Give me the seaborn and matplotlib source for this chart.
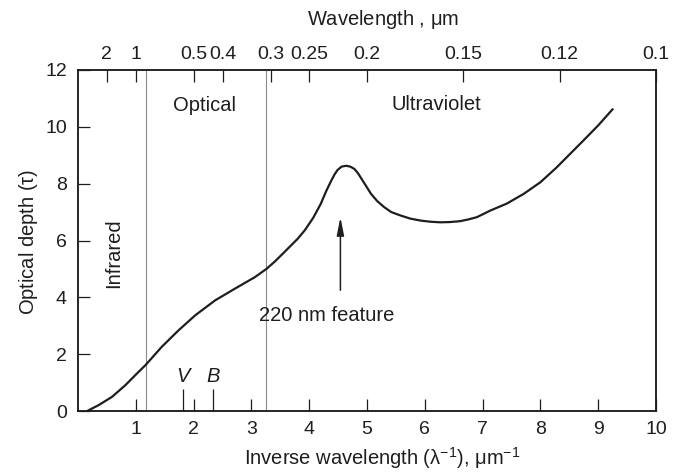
import matplotlib
matplotlib.use("Agg")
import matplotlib.pyplot as plt
import seaborn as sns
import pandas as pd

# Extinction curve: optical depth against inverse wavelength (um^-1)
inv_wavelength = [0.16, 0.36, 0.59, 0.82, 1.02, 1.17, 1.45, 1.74, 2.03, 2.37, 2.71,
                  3.06, 3.26, 3.40, 3.55, 3.80, 3.92, 4.07, 4.20, 4.29, 4.38, 4.44,
                  4.49, 4.56, 4.64, 4.71, 4.78, 4.84, 4.89, 4.98, 5.07, 5.18, 5.30,
                  5.42, 5.58, 5.75, 5.93, 6.10, 6.27, 6.44, 6.61, 6.75, 6.90, 7.00,
                  7.13, 7.42, 7.71, 8.00, 8.28, 8.50, 8.74, 9.00, 9.25]
optical_depth = [0.0, 0.21, 0.5, 0.91, 1.32, 1.62, 2.26, 2.84, 3.37, 3.89, 4.3,
                 4.71, 5.0, 5.25, 5.55, 6.06, 6.35, 6.8, 7.29, 7.72, 8.1, 8.33,
                 8.48, 8.6, 8.63, 8.6, 8.52, 8.38, 8.22, 7.93, 7.64, 7.38, 7.17,
                 7.0, 6.88, 6.77, 6.70, 6.66, 6.64, 6.65, 6.68, 6.74, 6.82, 6.92,
                 7.05, 7.3, 7.64, 8.05, 8.57, 9.02, 9.51, 10.05, 10.62]

# Region boundaries and photometric bands
region_edges = [1.18, 3.26]
band_names = ["V", "B"]
band_positions = [1.82, 2.33]

# Axis ticks
x_ticks = [1, 2, 3, 4, 5, 6, 7, 8, 9, 10]
y_ticks = [0, 2, 4, 6, 8, 10, 12]
wavelength_labels = ["2", "1", "0.5", "0.4", "0.3", "0.25", "0.2", "0.15", "0.12", "0.1"]
wavelength_values = [2, 1, 0.5, 0.4, 0.3, 0.25, 0.2, 0.15, 0.12, 0.1]

# 220 nm bump annotation
feature_x = 4.54
feature_arrow = (4.25, 6.82)

sns.set_theme(style="ticks")
plt.rcParams["font.family"] = ["Liberation Sans", "DejaVu Sans"]
plt.rcParams["mathtext.fontset"] = "custom"
plt.rcParams["mathtext.rm"] = "Liberation Sans"
plt.rcParams["mathtext.it"] = "Liberation Sans:italic"
plt.rcParams["mathtext.default"] = "regular"

ink = "#1e1e1e"
fs_tick = 14
fs = 14.5

fig = plt.figure(figsize=(6.76, 4.74), dpi=100)
ax = fig.add_axes([78 / 676, 1 - 411 / 474, (656 - 78) / 676, (411 - 70) / 474])

df = pd.DataFrame({"inv": inv_wavelength, "tau": optical_depth})
sns.lineplot(data=df, x="inv", y="tau", ax=ax, color=ink, linewidth=1.6, sort=False)

for xe in region_edges:
    ax.axvline(xe, color="#8a8a8a", linewidth=0.8, zorder=1)

ax.set_xlim(0, 10)
ax.set_ylim(0, 12)
ax.set_xticks(x_ticks)
ax.set_xticklabels([str(t) for t in x_ticks])
ax.set_yticks(y_ticks)
ax.set_xticks(band_positions, minor=True)
ax.tick_params(axis="both", which="major", direction="in", length=8.5, width=0.9,
               colors=ink, labelsize=fs_tick, pad=7)
ax.tick_params(axis="x", which="minor", direction="in", length=15.5, width=0.9,
               colors=ink, labelbottom=False)
ax.tick_params(axis="y", pad=8)

for name, xb in zip(band_names, band_positions):
    ax.text(xb, 1.22, name, ha="center", va="center", fontsize=fs,
            fontstyle="italic", color=ink)

ax.set_xlabel(r"Inverse wavelength ($\lambda^{-1}$), $\mu$m$^{-1}$", fontsize=fs,
              color=ink)
ax.xaxis.set_label_coords(0.526, -0.138)
ax.xaxis.label.set_va("center")
ax.set_ylabel(r"Optical depth ($\tau$)", fontsize=fs, color=ink)
ax.yaxis.set_label_coords(-0.085, 0.496)
ax.yaxis.label.set_va("center")

# Wavelength scale along the top
top = ax.twiny()
top.set_xlim(ax.get_xlim())
top.set_xticks([1 / w for w in wavelength_values])
top.set_xticklabels(wavelength_labels)
top.tick_params(axis="x", direction="in", length=8.5, width=0.9, colors=ink,
                labelsize=fs_tick, pad=5)
top.set_xlabel(r"Wavelength , $\mu$m", fontsize=fs, color=ink)
top.xaxis.set_label_coords(0.528, 1.147)
top.xaxis.label.set_va("center")

for a in (ax, top):
    for s in a.spines.values():
        s.set_color(ink)
        s.set_linewidth(1.1)

ax.text(0.62, 5.55, "Infrared", rotation=90, ha="center", va="center",
        fontsize=fs, color=ink)
ax.text(2.18, 10.74, "Optical", ha="center", va="center", fontsize=fs, color=ink)
ax.text(6.2, 10.8, "Ultraviolet", ha="center", va="center", fontsize=fs, color=ink)

ax.annotate("", xy=(feature_x, feature_arrow[1]), xytext=(feature_x, feature_arrow[0]),
            arrowprops=dict(arrowstyle="-|>,head_length=0.9,head_width=0.18",
                            color=ink, lw=1.1, shrinkA=0, shrinkB=0))
ax.text(4.3, 3.37, "220 nm feature", ha="center", va="center", fontsize=fs, color=ink)

fig.savefig("out.png", dpi=100, facecolor="white")
